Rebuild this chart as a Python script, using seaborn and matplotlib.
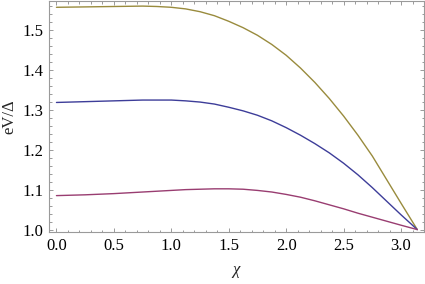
import numpy as np
import pandas as pd
import seaborn as sns
import matplotlib.pyplot as plt
from matplotlib.ticker import MultipleLocator

# values
chi = [0.0, 0.25, 0.5, 0.75, 0.875, 1.0, 1.125, 1.25, 1.375, 1.5, 1.625, 1.75, 1.875,
       2.0, 2.125, 2.25, 2.375, 2.5, 2.625, 2.75, 2.875, 3.0, np.pi]
upper = [1.556, 1.557, 1.558, 1.559, 1.558, 1.556, 1.552, 1.545, 1.535, 1.521, 1.505, 1.486, 1.463,
         1.436, 1.404, 1.368, 1.328, 1.284, 1.236, 1.184, 1.125, 1.066, 1.0]
middle = [1.318, 1.320, 1.322, 1.324, 1.324, 1.324, 1.322, 1.319, 1.314, 1.306, 1.297, 1.286, 1.272,
          1.255, 1.236, 1.215, 1.192, 1.166, 1.137, 1.105, 1.071, 1.037, 1.0]
lower = [1.085, 1.087, 1.090, 1.094, 1.096, 1.098, 1.100, 1.101, 1.102, 1.102, 1.101, 1.098, 1.094,
         1.088, 1.081, 1.072, 1.062, 1.052, 1.041, 1.031, 1.021, 1.011, 1.0]

df = pd.concat([
    pd.DataFrame({'chi': chi, 'V': upper, 'curve': 'upper'}),
    pd.DataFrame({'chi': chi, 'V': middle, 'curve': 'middle'}),
    pd.DataFrame({'chi': chi, 'V': lower, 'curve': 'lower'}),
])
palette = {'upper': (0.6, 0.547, 0.24), 'middle': (0.24, 0.24, 0.6), 'lower': (0.6, 0.24, 0.442)}

sns.set_style('ticks')
plt.rcParams['font.family'] = ['Liberation Serif', 'DejaVu Serif']

fig = plt.figure(figsize=(4.25, 2.84), dpi=100)
ax = fig.add_axes([49/425, 1-232/284, 375/425, 231.5/284])
sns.lineplot(data=df, x='chi', y='V', hue='curve', palette=palette, lw=1.0,
             legend=False, ax=ax, sort=False)

ax.set_xlim(-0.065, 3.2)
ax.set_ylim(0.994, 1.573)
ax.xaxis.set_major_locator(MultipleLocator(0.5))
ax.xaxis.set_minor_locator(MultipleLocator(0.1))
ax.yaxis.set_major_locator(MultipleLocator(0.1))
ax.yaxis.set_minor_locator(MultipleLocator(0.02))
ax.xaxis.set_major_formatter(plt.FormatStrFormatter('%.1f'))
ax.yaxis.set_major_formatter(plt.FormatStrFormatter('%.1f'))

#mathematica style frame
for s in ax.spines.values():
    s.set_color('#9a9a9a')
    s.set_linewidth(0.8)
ax.tick_params(which='both', direction='in', top=True, right=True, color='#9a9a9a', width=0.7)
ax.tick_params(which='major', length=3.2, labelsize=12, labelcolor='black', pad=4)
ax.tick_params(which='minor', length=1.8)

ax.set_xlabel('χ', fontsize=12, fontstyle='italic', labelpad=6)
ax.set_ylabel('eV/Δ', fontsize=12, labelpad=4)

fig.savefig('out.png', dpi=100)
